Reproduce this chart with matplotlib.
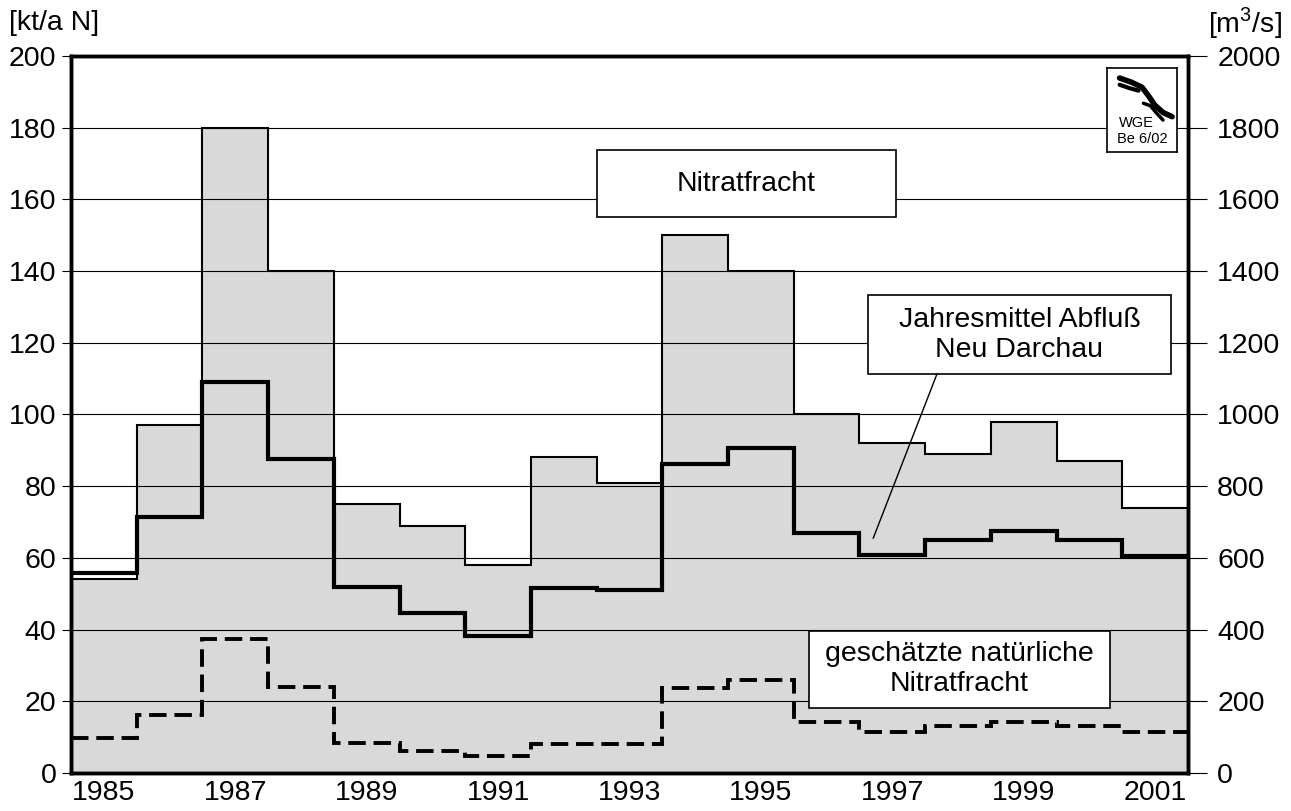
import numpy as np
import matplotlib.pyplot as plt
from matplotlib.patches import Rectangle

plt.rcParams['font.family'] = ['Liberation Sans', 'DejaVu Sans']

years = np.arange(1985, 2002)
# Nitratfracht [kt/a N]
nitrat = [54, 97, 180, 140, 75, 69, 58, 88, 81, 150, 140, 100, 92, 89, 98, 87, 74]
# Jahresmittel Abfluss Neu Darchau [m3/s]
abfluss = [558, 714, 1090, 876, 520, 446, 382, 516, 510, 862, 906, 669, 608, 650, 675, 650, 605]
# geschaetzte natuerliche Nitratfracht [kt/a N]
natuerlich = [9.7, 16.2, 37.4, 24, 8.4, 6.2, 4.7, 8.2, 8.2, 23.7, 26, 14.2, 11.3, 13.1, 14.2, 13.1, 11.3]

edges = np.append(years - 0.5, years[-1] + 0.5)

fig = plt.figure(figsize=(12.91, 8.11), dpi=100)
ax = fig.add_axes([0.055, 0.0469, 0.8652, 0.8841])
ax2 = ax.twinx()

# gray load bars
ax.stairs(nitrat, edges, fill=True, color='#d9d9d9', zorder=1)
ax.stairs(nitrat, edges, color='black', lw=1.5, zorder=1.5)
ax.stairs(natuerlich, edges, baseline=None, color='black', lw=2.8,
          linestyle=(0, (4.5, 2)), zorder=3)
ax2.stairs(abfluss, edges, baseline=None, color='black', lw=3, zorder=3)

ax.set_xlim(1984.5, 2001.5)
ax.set_ylim(0, 200)
ax2.set_ylim(0, 2000)
ax.set_yticks(np.arange(0, 201, 20))
ax2.set_yticks(np.arange(0, 2001, 200))
ax.set_xticks(years[::2])
ax.set_axisbelow(False)
ax.grid(axis='y', color='black', lw=0.8)

ax.tick_params(axis='x', length=0, labelsize=20.5, pad=5)
ax.tick_params(axis='y', length=6.5, width=0.8, labelsize=20.5, pad=4)
ax2.tick_params(axis='y', length=14, width=0.8, labelsize=20.5, pad=7)
for a in (ax, ax2):
    for s in a.spines.values():
        s.set_linewidth(2.5)

fig.text(0.007, 0.972, '[kt/a N]', fontsize=20.5, ha='left', va='center')
fig.text(0.993, 0.972, '[m$^{\\mathregular{3}}$/s]', fontsize=20.5, ha='right', va='center')

# label boxes (drawn on top axes, in left-axis units)
def box(x0, x1, y0, y1, txt):
    ax2.add_patch(Rectangle((x0, y0), x1 - x0, y1 - y0, transform=ax.transData,
                            facecolor='white', edgecolor='black', lw=1.2, zorder=5))
    ax2.text((x0 + x1) / 2, (y0 + y1) / 2, txt, transform=ax.transData,
             ha='center', va='center', fontsize=20.5, zorder=6, linespacing=1.2)

box(1992.5, 1997.06, 155, 173.8, 'Nitratfracht')
box(1996.63, 2001.24, 111.3, 133.3, 'Jahresmittel Abflu\u00df\nNeu Darchau')
box(1995.73, 2000.31, 18.2, 39.6, 'gesch\u00e4tzte nat\u00fcrliche\nNitratfracht')
ax2.plot([1997.68, 1996.71], [111.3, 65.5], color='black', lw=1,
         transform=ax.transData, zorder=5)

# logo
lg = fig.add_axes([0.8575, 0.8126, 0.0542, 0.1036])
lg.set_xlim(0, 1)
lg.set_ylim(0, 1)
lg.set_xticks([])
lg.set_yticks([])
for s in lg.spines.values():
    s.set_linewidth(1.2)
lg.plot([0.18, 0.35, 0.5, 0.6, 0.68, 0.8, 0.93], [0.88, 0.83, 0.77, 0.66, 0.56, 0.47, 0.42],
        color='black', lw=4, solid_capstyle='round')
lg.plot([0.18, 0.32, 0.45], [0.8, 0.76, 0.73], color='black', lw=3, solid_capstyle='round')
lg.plot([0.52, 0.62, 0.7, 0.8], [0.58, 0.55, 0.47, 0.38], color='black', lw=2.5,
        solid_capstyle='round')
lg.text(0.42, 0.34, 'WGE', fontsize=10.5, ha='center', va='center')
lg.text(0.5, 0.15, 'Be 6/02', fontsize=10.5, ha='center', va='center')

fig.savefig('out.png', dpi=100)
